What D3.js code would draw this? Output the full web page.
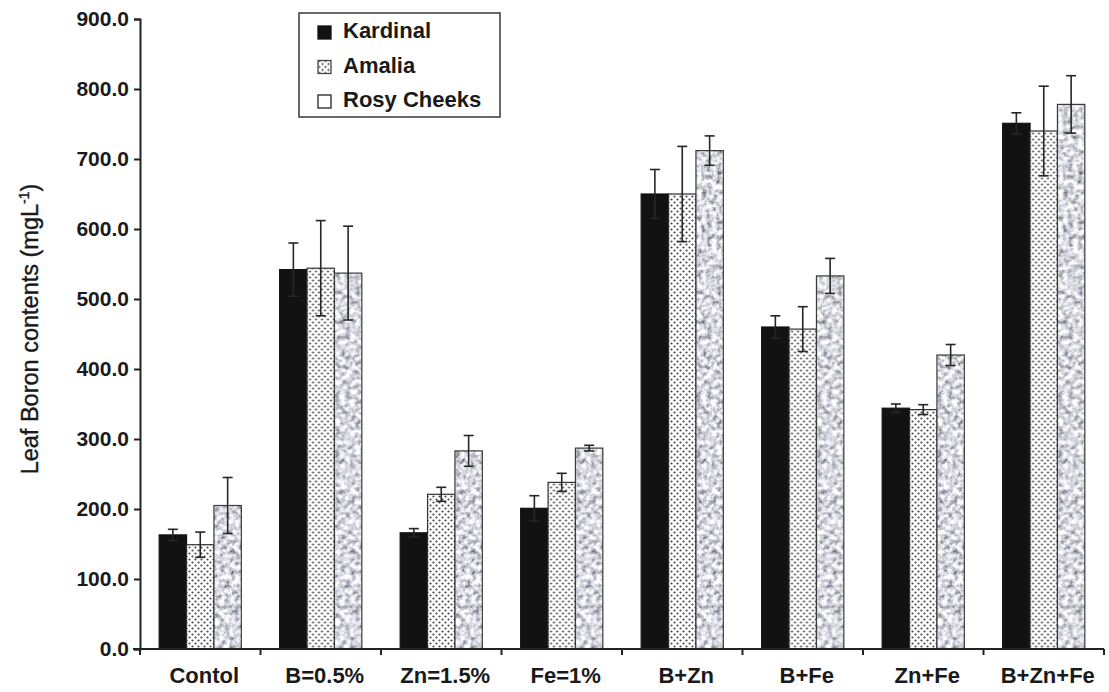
<!DOCTYPE html>
<html>
<head>
<meta charset="utf-8">
<script src="https://cdn.jsdelivr.net/npm/d3@7"></script>
<style>
  body { margin: 0; background: #fff; }
  svg { display: block; }
  text { font-family: "Liberation Sans", Arial, sans-serif; fill: #1a1a1a; }
</style>
</head>
<body>
<div id="chart"></div>
<script>
// values
var categories = ["Contol", "B=0.5%", "Zn=1.5%", "Fe=1%", "B+Zn", "B+Fe", "Zn+Fe", "B+Zn+Fe"];
var seriesNames = ["Kardinal", "Amalia", "Rosy Cheeks"];
var kardinal = [163, 542, 166, 201, 650, 460, 344, 751];
var kardinalErr = [8, 38, 6, 18, 35, 16, 6, 15];
var amalia = [149, 544, 221, 238, 650, 457, 342, 740];
var amaliaErr = [18, 68, 10, 13, 68, 32, 7, 64];
var rosy = [205, 537, 283, 287, 712, 533, 420, 778];
var rosyErr = [40, 67, 22, 4, 21, 25, 15, 41];
var yTicks = [0, 100, 200, 300, 400, 500, 600, 700, 800, 900];

var W = 1109, H = 692;
var m = {top: 19, right: 5, bottom: 43, left: 140}; // plot = 140..1104, 19..649

var svg = d3.select("#chart").append("svg")
    .attr("width", W).attr("height", H);

var defs = svg.append("defs");

// dotted fill (Amalia)
var dots = defs.append("pattern")
    .attr("id", "dots")
    .attr("patternUnits", "userSpaceOnUse")
    .attr("width", 6).attr("height", 6);
dots.append("rect").attr("width", 6).attr("height", 6).attr("fill", "#fff");
dots.append("circle").attr("cx", 1.5).attr("cy", 1.5).attr("r", 1.1).attr("fill", "#4a4a4a");
dots.append("circle").attr("cx", 4.5).attr("cy", 4.5).attr("r", 1.1).attr("fill", "#4a4a4a");

// granite fill (Rosy Cheeks)
var granite = defs.append("filter")
    .attr("id", "granite")
    .attr("x", 0).attr("y", 0).attr("width", 1).attr("height", 1);
granite.append("feTurbulence")
    .attr("type", "fractalNoise")
    .attr("baseFrequency", 0.2)
    .attr("numOctaves", 3)
    .attr("seed", 4);
granite.append("feColorMatrix")
    .attr("type", "matrix")
    .attr("values", "1.7 0 0 0 -0.16  1.7 0 0 0 -0.15  1.7 0 0 0 -0.1  0 0 0 0 1");
var gp = defs.append("pattern")
    .attr("id", "gray")
    .attr("patternUnits", "userSpaceOnUse")
    .attr("width", W).attr("height", H);
gp.append("rect").attr("width", W).attr("height", H).attr("filter", "url(#granite)");

var fills = ["#121212", "url(#dots)", "url(#gray)"];
var strokes = ["#121212", "#333", "#3a3a3a"];

var x0 = d3.scaleBand()
    .domain(categories)
    .range([m.left, W - m.right]);

var x1 = d3.scaleBand()
    .domain(seriesNames)
    .range([0, x0.bandwidth()])
    .paddingInner(0)
    .paddingOuter(0.7);

var y = d3.scaleLinear()
    .domain([0, 900])
    .range([H - m.bottom, m.top]);

var rows = categories.map(function(c, i) {
    return {
        cat: c,
        vals: [
            {s: seriesNames[0], v: kardinal[i], e: kardinalErr[i], k: 0},
            {s: seriesNames[1], v: amalia[i], e: amaliaErr[i], k: 1},
            {s: seriesNames[2], v: rosy[i], e: rosyErr[i], k: 2}
        ]
    };
});

//------- bars -----------
var groups = svg.append("g").selectAll("g")
    .data(rows).enter().append("g")
    .attr("transform", function(d) { return "translate(" + x0(d.cat) + ",0)"; });

groups.selectAll("rect")
    .data(function(d) { return d.vals; })
    .enter().append("rect")
    .attr("x", function(d) { return x1(d.s); })
    .attr("y", function(d) { return y(d.v); })
    .attr("width", x1.bandwidth())
    .attr("height", function(d) { return y(0) - y(d.v); })
    .attr("fill", function(d) { return fills[d.k]; })
    .attr("stroke", function(d) { return strokes[d.k]; })
    .attr("stroke-width", 1.2);

//------- error bars -----------
var cap = 5;
var eb = groups.selectAll("g.err")
    .data(function(d) { return d.vals; })
    .enter().append("g")
    .attr("class", "err")
    .attr("stroke", "#262626")
    .attr("stroke-width", 1.6);
eb.append("line")
    .attr("x1", function(d) { return x1(d.s) + x1.bandwidth() / 2; })
    .attr("x2", function(d) { return x1(d.s) + x1.bandwidth() / 2; })
    .attr("y1", function(d) { return y(d.v - d.e); })
    .attr("y2", function(d) { return y(d.v + d.e); });
eb.append("line")
    .attr("x1", function(d) { return x1(d.s) + x1.bandwidth() / 2 - cap; })
    .attr("x2", function(d) { return x1(d.s) + x1.bandwidth() / 2 + cap; })
    .attr("y1", function(d) { return y(d.v + d.e); })
    .attr("y2", function(d) { return y(d.v + d.e); });
eb.append("line")
    .attr("x1", function(d) { return x1(d.s) + x1.bandwidth() / 2 - cap; })
    .attr("x2", function(d) { return x1(d.s) + x1.bandwidth() / 2 + cap; })
    .attr("y1", function(d) { return y(d.v - d.e); })
    .attr("y2", function(d) { return y(d.v - d.e); });

//------- axes -----------
var yAxis = d3.axisLeft(y)
    .tickValues(yTicks)
    .tickFormat(d3.format(".1f"))
    .tickSize(6)
    .tickPadding(5);
var ya = svg.append("g")
    .attr("transform", "translate(" + m.left + ",0)")
    .call(yAxis);
ya.select(".domain").attr("stroke", "#222").attr("stroke-width", 2);
ya.selectAll(".tick line").attr("stroke", "#222").attr("stroke-width", 2);
ya.selectAll(".tick text")
    .style("font-size", "21px").style("font-weight", "bold")
    .attr("fill", "#1a1a1a");

// x axis: line with ticks at the group boundaries
var xa = svg.append("g").attr("stroke", "#222").attr("stroke-width", 2);
xa.append("line")
    .attr("x1", m.left - 7).attr("x2", W - m.right)
    .attr("y1", y(0)).attr("y2", y(0));
var bounds = categories.map(function(c) { return x0(c); }).concat([x0.range()[1]]);
xa.selectAll("line.tk")
    .data(bounds).enter().append("line")
    .attr("class", "tk")
    .attr("x1", function(d) { return d; }).attr("x2", function(d) { return d; })
    .attr("y1", y(0)).attr("y2", y(0) + 6);

svg.append("g").selectAll("text")
    .data(categories).enter().append("text")
    .attr("x", function(d) { return x0(d) + x0.bandwidth() / 2 + 4; })
    .attr("y", 683)
    .attr("text-anchor", "middle")
    .style("font-size", "22px").style("font-weight", "bold")
    .text(function(d) { return d; });

// y title
var yt = svg.append("text")
    .attr("transform", "translate(38,329) rotate(-90)")
    .attr("text-anchor", "middle")
    .style("font-size", "23.5px")
    .attr("stroke", "#1a1a1a").attr("stroke-width", 0.4);
yt.append("tspan").text("Leaf Boron contents (mgL");
yt.append("tspan").attr("dy", -9).style("font-size", "14px").text("-1");
yt.append("tspan").attr("dy", 9).text(")");

//------- legend -----------
var lg = svg.append("g");
lg.append("rect")
    .attr("x", 299).attr("y", 13).attr("width", 201).attr("height", 104)
    .attr("fill", "#fff").attr("stroke", "#444").attr("stroke-width", 1.6);
var legFills = ["#121212", "url(#dots)", "#fff"];
var legStrokes = ["#121212", "#444", "#222"];
var li = lg.selectAll("g.li")
    .data(seriesNames).enter().append("g")
    .attr("class", "li")
    .attr("transform", function(d, i) { return "translate(318," + (25 + i * 34.5) + ")"; });
li.append("rect")
    .attr("x", 0).attr("y", 1).attr("width", 13).attr("height", 13)
    .attr("fill", function(d, i) { return legFills[i]; })
    .attr("stroke", function(d, i) { return legStrokes[i]; })
    .attr("stroke-width", 1.3);
li.append("text")
    .attr("x", 25).attr("y", 13)
    .style("font-size", "22px").style("font-weight", "bold")
    .text(function(d) { return d; });
</script>
</body>
</html>
